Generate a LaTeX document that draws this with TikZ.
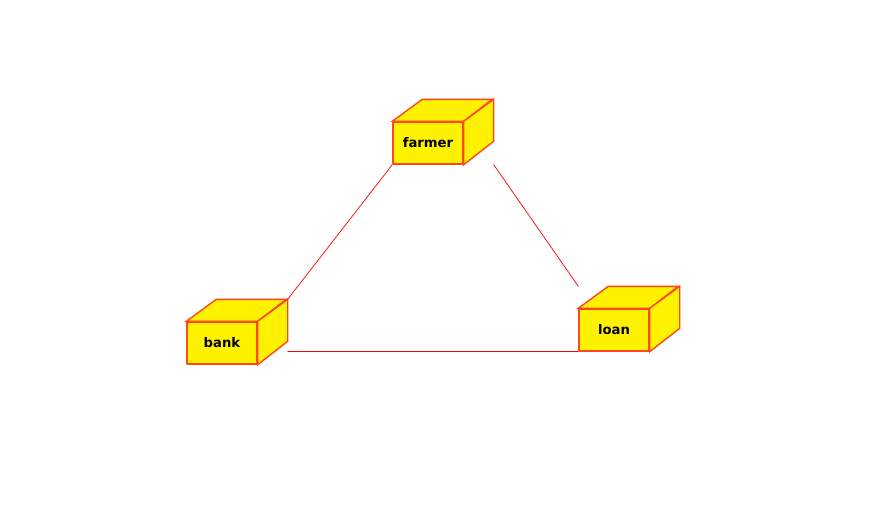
\documentclass[tikz,border=0pt]{standalone}
\usepackage{fontspec}
\setmainfont{DejaVu Sans}
\usetikzlibrary{calc}
\definecolor{boxline}{RGB}{255,70,30}
\tikzset{
	box/.style={draw=boxline, fill=yellow, line width=1.4pt, minimum width=70pt, minimum height=42pt, inner sep=0pt, font=\bfseries\fontsize{13.2}{15}\selectfont},
	side/.style={draw=boxline, fill=yellow, line width=1.4pt, line join=miter},
	link/.style={draw=red, line width=0.7pt}
}
% a cube: front face is the node, top and right faces drawn behind it
\newcommand{\cube}[3]{%
	\node[box] (#1) at (#2) {#3};
	\draw[side] (#1.north west) -- ++(30,-22) -- ++(70,0) -- (#1.north east) -- cycle;
	\draw[side] (#1.north east) -- ++(30,-22) -- ++(0,42) -- (#1.south east) -- cycle;
	\coordinate (#1-tl) at ($(#1.north west)+(0,-22)$);
	\coordinate (#1-tr) at ($(#1.north east)+(30,-22)$);
	\coordinate (#1-br) at ($(#1.south east)+(30,0)$);
}
\begin{document}
\begin{tikzpicture}[x=1pt,y=-1pt,line cap=round,line join=round]
		\useasboundingbox[fill=white] (0,0) rectangle (880,528);
		\cube{farmer}{428,143}{farmer}
		\cube{bank}{222,343}{bank}
		\cube{loan}{614,330}{loan}
		\draw[link] (farmer.south west) -- (bank-tr);
		\draw[link] (farmer-br) -- (loan-tl);
		\draw[link] (loan.south west) -- (loan.south west -| bank-tr);
		\end{tikzpicture}
\end{document}
